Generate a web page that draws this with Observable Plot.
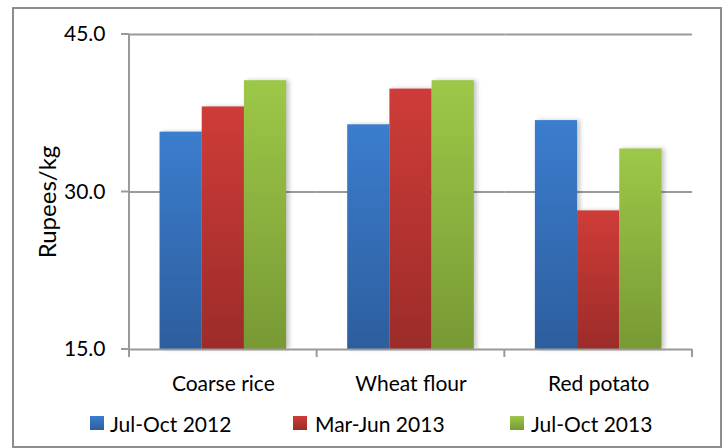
<!DOCTYPE html>
<html>
<head>
<meta charset="utf-8">
<script src="https://cdn.jsdelivr.net/npm/d3@7"></script>
<script src="https://cdn.jsdelivr.net/npm/@observablehq/plot@0.6"></script>
<style>
  html, body { margin: 0; padding: 0; background: #fff; }
  body { width: 725px; height: 448px; position: relative; overflow: hidden; font-family: Lato, sans-serif; }
  #box { position: absolute; left: 12px; top: 7px; width: 706px; height: 437px; border: 2px solid #8d8d8d; }
  #chart { position: absolute; left: 0; top: 0; }
  .bar rect { filter: drop-shadow(3px 0px 2px rgba(0,0,0,0.22)); }
  #ytitle { position: absolute; left: 0; top: 0; }
  .leg { position: absolute; font-size: 21px; line-height: 20px; color: #000; white-space: nowrap; }
  .sw { position: absolute; width: 14px; height: 14px; }
</style>
</head>
<body>
<div id="box"></div>
<div id="chart"></div>
<svg id="ytitle" width="725" height="448" style="pointer-events:none">
  <text transform="translate(56,202) rotate(-90)" text-anchor="middle" font-family="Lato" font-size="24" fill="#000">Rupees/kg</text>
</svg>
<div id="legend"></div>
<script>
// ---- data ----
const categories = ["Coarse rice", "Wheat flour", "Red potato"];
const seriesNames = ["Jul-Oct 2012", "Mar-Jun 2013", "Jul-Oct 2013"];
const jul2012 = [35.7, 36.4, 36.8];
const mar2013 = [38.1, 39.8, 28.2];
const jul2013 = [40.6, 40.6, 34.1];
const yTicks = [15, 30, 45];

// ---- styles ----
const gradTop = ["#3b7dce", "#cf3c38", "#9dc848"];
const gradBottom = ["#2d5e9e", "#9c2c29", "#789934"];
const gradIds = ["gBlue", "gRed", "gGreen"];
const axisColor = "#9a9a9a";

const seriesValues = [jul2012, mar2013, jul2013];
const data = categories.flatMap((c, i) =>
  seriesNames.map((s, j) => ({category: c, series: s, value: seriesValues[j][i]}))
);

const chart = Plot.plot({
  width: 725,
  height: 400,
  marginLeft: 129,
  marginRight: 33,
  marginTop: 34,
  marginBottom: 51,
  style: {fontFamily: "Lato", fontSize: "21px", color: "#000", background: "transparent", overflow: "visible"},
  facet: {data, x: "category"},
  fx: {domain: categories, padding: 0, round: false, axis: "bottom", tickSize: 0, tickPadding: 27, label: null},
  x: {domain: seriesNames, paddingInner: 0, paddingOuter: 0.7235, round: false, axis: null},
  y: {domain: [15, 45], ticks: yTicks, tickFormat: d3.format(".1f"), tickSize: 0, tickPadding: 24, label: null},
  color: {domain: seriesNames, range: gradIds.map(id => `url(#${id})`)},
  marks: [
    Plot.ruleY(yTicks.filter(t => t !== 15), {stroke: axisColor, strokeWidth: 2}),
    Plot.barY(data, {x: "series", y1: 15, y2: "value", fill: "series", className: "bar"}),
    Plot.ruleY([15], {stroke: axisColor, strokeWidth: 2})
  ]
});
document.getElementById("chart").appendChild(chart);

// gradients
const svg = d3.select(chart);
const defs = svg.insert("defs", ":first-child");
gradIds.forEach((id, i) => {
  const g = defs.append("linearGradient").attr("id", id).attr("x1", 0).attr("y1", 0).attr("x2", 0).attr("y2", 1);
  g.append("stop").attr("offset", "0%").attr("stop-color", gradTop[i]);
  g.append("stop").attr("offset", "100%").attr("stop-color", gradBottom[i]);
});

// axis lines and ticks from the chart's own scales
let fx = chart.scale("fx");
let fxApply = fx.apply ? (v) => fx.apply(v) : (() => { const s = Plot.scale({x: fx}); return (v) => s.apply(v); })();
let ys = chart.scale("y");
let yApply = ys.apply ? (v) => ys.apply(v) : (() => { const s = Plot.scale({y: ys}); return (v) => s.apply(v); })();
const bw = fx.bandwidth;
const edges = categories.map(c => fxApply(c));
edges.push(edges[edges.length - 1] + bw);
const y0 = yApply(15), yTop = yApply(45);
const ax = svg.append("g").attr("stroke", axisColor).attr("stroke-width", 2);
ax.append("line").attr("x1", edges[0]).attr("x2", edges[0]).attr("y1", yTop).attr("y2", y0 + 8);
edges.slice(1).forEach(x => ax.append("line").attr("x1", x).attr("x2", x).attr("y1", y0).attr("y2", y0 + 8));
yTicks.forEach(t => ax.append("line").attr("x1", edges[0] - 8).attr("x2", edges[0]).attr("y1", yApply(t)).attr("y2", yApply(t)));

// legend
const legendSw = [90, 293, 510];
const legendTx = [110, 315, 531];
const legend = document.getElementById("legend");
seriesNames.forEach((s, i) => {
  const sw = document.createElement("div");
  sw.className = "sw";
  sw.style.left = legendSw[i] + "px";
  sw.style.top = "416px";
  sw.style.background = `linear-gradient(${gradTop[i]}, ${gradBottom[i]})`;
  legend.appendChild(sw);
  const tx = document.createElement("div");
  tx.className = "leg";
  tx.style.left = legendTx[i] + "px";
  tx.style.top = "414px";
  tx.textContent = s;
  legend.appendChild(tx);
});
</script>
</body>
</html>
